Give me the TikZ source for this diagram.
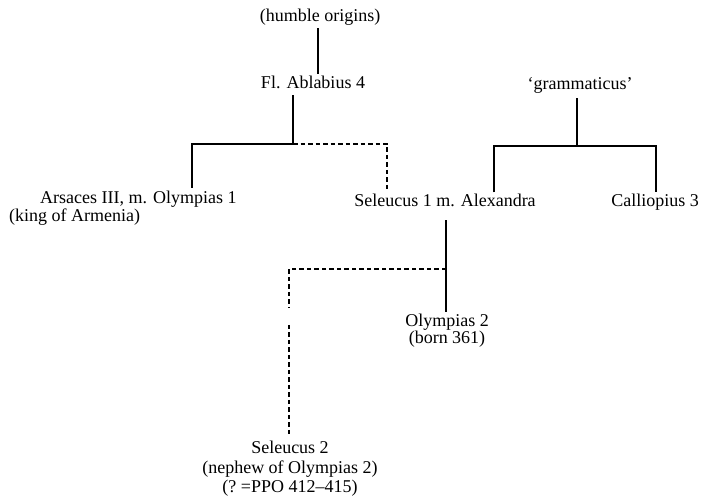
\documentclass[tikz,border=0pt]{standalone}
\usepackage{fontspec}
\setmainfont{Liberation Serif}
\usepackage{tikz}
\usetikzlibrary{calc}

\begin{document}
\begin{tikzpicture}[
  x=1pt, y=-1pt,
  every node/.style={font=\fontsize{18}{20}\selectfont, inner sep=2pt},
  line/.style={line width=1.2pt},
  maybe/.style={line width=1.2pt, dash pattern=on 4.5pt off 3pt}
]
\useasboundingbox (0,0) rectangle (702,502);

% Persons
\node[anchor=base] (humble) at (320,22) {(humble origins)};
\node[anchor=base] (ablabius) at (313,89) {Fl. Ablabius 4};
\node[anchor=base] (gramm) at (580,90) {`grammaticus'};
\node[anchor=base west] (arsaces) at (38,204) {Arsaces III, m. Olympias 1};
\node[anchor=base west] (armenia) at (7,222) {(king of Armenia)};
\node[anchor=base] (seleucusa) at (445,207) {Seleucus 1 m. Alexandra};
\node[anchor=base] (calliopius) at (655,207) {Calliopius 3};
% base of a two-line node is its last line
\node[anchor=base, align=center] (olympias) at (447,344) {Olympias 2\\[-3pt](born 361)};
\node[anchor=base, align=center] (seleucusb) at (290,493) {Seleucus 2\\(nephew of Olympias 2)\\[-1pt](?\ =PPO 412--415)};

% Junctions
\coordinate (ablj) at (293,144);
\coordinate (arsj) at (192,144);
\coordinate (selj) at (387,144);
\coordinate (gramj) at (577,146);
\coordinate (grl) at (494,146);
\coordinate (grr) at (656,146);
\coordinate (olyj) at (446,269);
\coordinate (nephj) at (289,269);
\coordinate (gapa) at (289,308);
\coordinate (gapb) at (289,325);

% Ablabius and his children
\draw[line] ([xshift=-2pt]humble.south) -- ([xshift=-2pt]humble.south |- ablabius.north);
\draw[line] ([yshift=-4pt]ablabius.south -| ablj) -- (ablj) -- (arsj) -- ([yshift=1pt]arsj |- arsaces.north);
\draw[maybe] (ablj) -- (selj) -- (selj |- seleucusa.north);

% The grammarian and his sons
\draw[line] ([yshift=-2pt]gramm.south -| gramj) -- (gramj);
\draw[line] (grl |- seleucusa.north) -- (grl) -- (grr) -- (grr |- calliopius.north);

% Next generation
\draw[line] ([yshift=-11pt]seleucusa.south -| olyj) -- (olympias.north -| olyj);
\draw[maybe] (olyj) -- (nephj) -- (gapa);
\draw[maybe] (gapb) -- ([yshift=4pt]gapb |- seleucusb.north);

\end{tikzpicture}
\end{document}
